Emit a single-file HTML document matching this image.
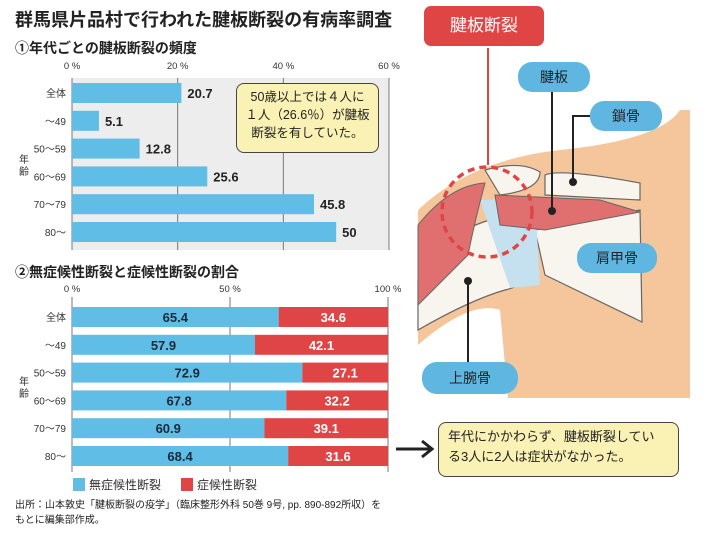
<!DOCTYPE html>
<html><head><meta charset="utf-8">
<style>
body{margin:0;background:#fff;}
#root{position:relative;width:710px;height:538px;overflow:hidden;font-family:"Liberation Sans","Noto Sans CJK JP",sans-serif;color:#222;}
.t{position:absolute;white-space:nowrap;}
</style></head><body>
<div id="root">
<svg id="illus" width="710" height="538" style="position:absolute;left:0;top:0">
  <path d="M418,210 Q470,160 560,150 Q660,140 680,110 L690,110 L690,398 L508,398 L500,310 Q470,300 418,345 Z" fill="#f5c69b"/>
  <path d="M418,280 Q450,230 490,220 Q535,225 535,260 Q530,285 505,290 Q470,300 418,330 Z" fill="#f8f5ee" stroke="#666" stroke-width="1.2"/>
  <path d="M535,230 L640,210 L642,322 L545,275 Z" fill="#f8f5ee" stroke="#666" stroke-width="1.2"/>
  <path d="M545,175 Q560,168 640,183 L640,200 L545,195 Z" fill="#f8f5ee" stroke="#666" stroke-width="1.2"/>
  <path d="M485,170 Q520,160 540,172 Q540,190 500,195 Z" fill="#f8f5ee" stroke="#666" stroke-width="1.2"/>
  <path d="M480,200 L535,198 L540,285 L510,288 Z" fill="#c5e0ef"/>
  <path d="M495,195 L600,200 L640,212 L545,230 L500,225 Z" fill="#e07070" stroke="#666" stroke-width="1"/>
  <path d="M418,225 Q450,185 485,183 Q475,220 468,255 L418,305 Z" fill="#e07070" stroke="#666" stroke-width="1"/>
  <circle cx="487" cy="212" r="45" fill="none" stroke="#e04545" stroke-width="3.5" stroke-dasharray="7,5"/>
  <line x1="488" y1="48" x2="488" y2="165" stroke="#e04545" stroke-width="2"/>
  <line x1="552" y1="92" x2="552" y2="211" stroke="#222" stroke-width="2"/>
  <circle cx="552" cy="211" r="4" fill="#222"/>
  <polyline points="590,116 573,116 573,182" fill="none" stroke="#222" stroke-width="2"/>
  <circle cx="573" cy="182" r="4" fill="#222"/>
  <line x1="468" y1="281" x2="468" y2="365" stroke="#222" stroke-width="2"/>
  <circle cx="468" cy="281" r="4" fill="#222"/>
  <line x1="396" y1="449" x2="430" y2="449" stroke="#222" stroke-width="3"/>
  <polyline points="422,441 432,449 422,457" fill="none" stroke="#222" stroke-width="3"/>
</svg>
<div class="t" style="left:424px;top:6px;width:120px;height:40px;background:#e04545;border-radius:7px;color:#fff;font-size:17px;line-height:40px;text-align:center">腱板断裂</div>
<div class="t" style="left:518px;top:62px;width:72px;height:30px;background:#5fb7e1;border-radius:14px;font-size:14px;line-height:30px;text-align:center">腱板</div>
<div class="t" style="left:590px;top:101px;width:72px;height:30px;background:#5fb7e1;border-radius:14px;font-size:14px;line-height:30px;text-align:center">鎖骨</div>
<div class="t" style="left:577px;top:243px;width:80px;height:30px;background:#5fb7e1;border-radius:14px;font-size:14px;line-height:30px;text-align:center">肩甲骨</div>
<div class="t" style="left:422px;top:362px;width:96px;height:32px;background:#5fb7e1;border-radius:15px;font-size:14px;line-height:32px;text-align:center">上腕骨</div>

<div class="t" style="left:15px;top:6px;font-size:18px;font-weight:bold">群馬県片品村で行われた腱板断裂の有病率調査</div>
<div class="t" style="left:15px;top:38px;font-size:14px;font-weight:bold">①年代ごとの腱板断裂の頻度</div>
<div class="t" style="left:15px;top:262px;font-size:14px;font-weight:bold">②無症候性断裂と症候性断裂の割合</div>

<svg id="c1" width="710" height="538" style="position:absolute;left:0;top:0"></svg>
<svg id="c2" width="710" height="538" style="position:absolute;left:0;top:0"></svg>

<div class="t" style="left:236px;top:83px;width:141px;height:64px;background:#faf2b4;border:1.5px solid #444;border-radius:8px;font-size:12.5px;line-height:18px;padding:4px 0 0 0;text-align:center;white-space:normal">50歳以上では４人に<br>１人（26.6％）が腱板<br>断裂を有していた。</div>
<div class="t" style="left:438px;top:422px;width:230px;height:49px;background:#faf2b4;border:1.5px solid #444;border-radius:8px;font-size:13px;line-height:20px;padding:4px 0 0 9px;white-space:normal">年代にかかわらず、腱板断裂してい<br>る3人に2人は症状がなかった。</div>
<div class="t" style="left:15px;top:498px;font-size:10px;line-height:15px">出所：山本敦史「腱板断裂の疫学」（臨床整形外科 50巻 9号, pp. 890-892所収）を<br>もとに編集部作成。</div>
</div>
<script>
const categories=["全体","～49","50～59","60～69","70～79","80～"];
const freqValues=[20.7,5.1,12.8,25.6,45.8,50];
const freqTicks=[0,20,40,60];
const asymValues=[65.4,57.9,72.9,67.8,60.9,68.4];
const symValues=[34.6,42.1,27.1,32.2,39.1,31.6];
const ratioTicks=[0,50,100];
const NS="http://www.w3.org/2000/svg";
function mk(svg,tag,attrs,text){const e=document.createElementNS(NS,tag);for(const k in attrs)e.setAttribute(k,attrs[k]);if(text!==undefined)e.textContent=text;svg.appendChild(e);return e;}
const FONT='"Liberation Sans","Noto Sans CJK JP",sans-serif';
// chart 1
(function(){
 const s=document.getElementById('c1');
 const x=v=>72+v*(389-72)/60, y=i=>93+i*27.8;
 let bg=mk(s,'rect',{x:72,y:78,width:317,height:172,fill:'#ededed'});
 
 freqTicks.forEach(t=>{
  let l=mk(s,'line',{x1:x(t),x2:x(t),y1:78,y2:250,stroke:'#777','stroke-width':1});
  
  let tx=mk(s,'text',{x:x(t),y:69,'font-size':9.5,'text-anchor':'middle','font-family':FONT,fill:'#333'},t+' %');
  
 });
 categories.forEach((c,i)=>{
  let r=mk(s,'rect',{x:x(0),y:y(i)-10,width:x(freqValues[i])-x(0),height:20,fill:'#5fbde6'});
  
  let v=mk(s,'text',{x:x(freqValues[i])+6,y:y(i)+5,'font-size':13,'font-weight':'bold','font-family':FONT,fill:'#222'},String(freqValues[i]));
  
  let cl=mk(s,'text',{x:66,y:y(i)+4,'font-size':10,'text-anchor':'end','font-family':FONT,fill:'#333'},c);
  
 });
 let a=mk(s,'text',{x:24,y:163,'font-size':10,'text-anchor':'middle','font-family':FONT,fill:'#333'},'年');
 
 let b=mk(s,'text',{x:24,y:175,'font-size':10,'text-anchor':'middle','font-family':FONT,fill:'#333'},'齢');
 
})();
// chart 2
(function(){
 const s=document.getElementById('c2');
 const x=v=>72+v*(388-72)/100, y=i=>317+i*27.8;
 ratioTicks.forEach(t=>{
  let l=mk(s,'line',{x1:x(t),x2:x(t),y1:297,y2:472,stroke:'#777','stroke-width':1});
  
  let tx=mk(s,'text',{x:x(t),y:292,'font-size':9.5,'text-anchor':'middle','font-family':FONT,fill:'#333'},t+' %');
  
 });
 categories.forEach((c,i)=>{
  let r=mk(s,'rect',{x:x(0),y:y(i)-10,width:x(asymValues[i])-x(0),height:20,fill:'#5fbde6'});
  
  let r2=mk(s,'rect',{x:x(asymValues[i]),y:y(i)-10,width:x(asymValues[i]+symValues[i])-x(asymValues[i]),height:20,fill:'#e04545'});
  
  let v=mk(s,'text',{x:(x(0)+x(asymValues[i]))/2,y:y(i)+5,'font-size':13,'font-weight':'bold','text-anchor':'middle','font-family':FONT,fill:'#1a2a3a'},String(asymValues[i]));
  
  let v2=mk(s,'text',{x:(x(asymValues[i])+x(100))/2,y:y(i)+5,'font-size':13,'font-weight':'bold','text-anchor':'middle','font-family':FONT,fill:'#fff'},String(symValues[i]));
  
  let cl=mk(s,'text',{x:66,y:y(i)+4,'font-size':10,'text-anchor':'end','font-family':FONT,fill:'#333'},c);
  
 });
 let a=mk(s,'text',{x:24,y:385,'font-size':10,'text-anchor':'middle','font-family':FONT,fill:'#333'},'年');
 
 let b=mk(s,'text',{x:24,y:397,'font-size':10,'text-anchor':'middle','font-family':FONT,fill:'#333'},'齢');
 
 let l1=mk(s,'rect',{x:73,y:478,width:12,height:13,fill:'#5fbde6'});
 
 let t1=mk(s,'text',{x:89,y:489,'font-size':12,'font-family':FONT,fill:'#333'},'無症候性断裂');
 
 let l2=mk(s,'rect',{x:181,y:478,width:12,height:13,fill:'#e04545'});
 
 let t2=mk(s,'text',{x:197,y:489,'font-size':12,'font-family':FONT,fill:'#333'},'症候性断裂');
 
})();
</script>
</body></html>
